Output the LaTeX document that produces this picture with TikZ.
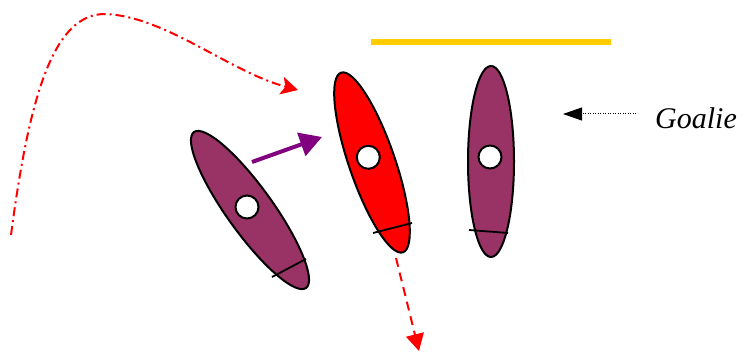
\documentclass[tikz,border=0pt]{standalone}
\usepackage{fontspec}
\setmainfont{Liberation Serif}
\usetikzlibrary{arrows.meta}
\definecolor{plum}{RGB}{153,51,102}
\definecolor{gold}{RGB}{255,204,0}
\definecolor{purp}{RGB}{128,0,128}
\begin{document}
\begin{tikzpicture}[x=1pt,y=-1pt,
  player/.style={draw=black,line width=2pt},
  hole/.style={draw=black,fill=white,line width=2pt},
  stickline/.style={draw=black,line width=1.8pt},
  passarrow/.style={purp,line width=4pt,-{Triangle[length=22pt,width=24pt]}},
  runarrow/.style={red,line width=2pt,dash pattern=on 9pt off 4pt on 2pt off 4pt,-{Stealth[length=17pt,width=18pt,inset=4pt]}},
  shotarrow/.style={red,line width=2pt,dash pattern=on 9pt off 6pt,-{Triangle[length=17pt,width=18pt]}},
  pointer/.style={black,line width=1pt,dash pattern=on 1pt off 1.5pt,-{Triangle[length=19pt,width=13pt]}}]
\useasboundingbox (0,0) rectangle (743,352);
% goal line
\draw[gold,line width=6pt] (371,42) -- (611,42);
% left player
\begin{scope}[shift={(250,210)},rotate=-54.3]
  \draw[player,fill=plum] (0,0) ellipse [x radius=96pt, y radius=23pt];
\end{scope}
\draw[hole] (247,207) circle [radius=11.5pt];
\draw[stickline] (272,277) -- (306,259);
% middle player
\begin{scope}[shift={(372,162.5)},rotate=-71]
  \draw[player,fill=red] (0,0) ellipse [x radius=95pt, y radius=23pt];
\end{scope}
\draw[hole] (368.3,157.3) circle [radius=11.5pt];
\draw[stickline] (373,233) -- (412,223);
% right player
\draw[player,fill=plum] (491,161.5) ellipse [x radius=23pt, y radius=95.5pt];
\draw[hole] (490,157) circle [radius=11.5pt];
\draw[stickline] (469,230) -- (508,233);
% arrows
\coordinate (passA) at (252,162);
\coordinate (passB) at (322,137);
\draw[passarrow] (passA) -- (passB);
\coordinate (runA) at (11,235);
\coordinate (runTop) at (105,14);
\coordinate (runB) at (298,90);
\draw[runarrow] (runA) .. controls (30,90) and (55,14) .. (runTop)
  .. controls (165,16) and (230,72) .. (runB);
\coordinate (shotA) at (396,258);
\coordinate (shotB) at (419,351);
\draw[shotarrow] (shotA) -- (shotB);
% goalie label
\node[anchor=base west,inner sep=0pt,font=\itshape\fontsize{30}{36}\selectfont] (goalie) at (655,129) {Goalie};
\coordinate (ptrA) at (636,114);
\coordinate (ptrB) at (563,114);
\draw[pointer] (ptrA) -- (ptrB);
\end{tikzpicture}
\end{document}
